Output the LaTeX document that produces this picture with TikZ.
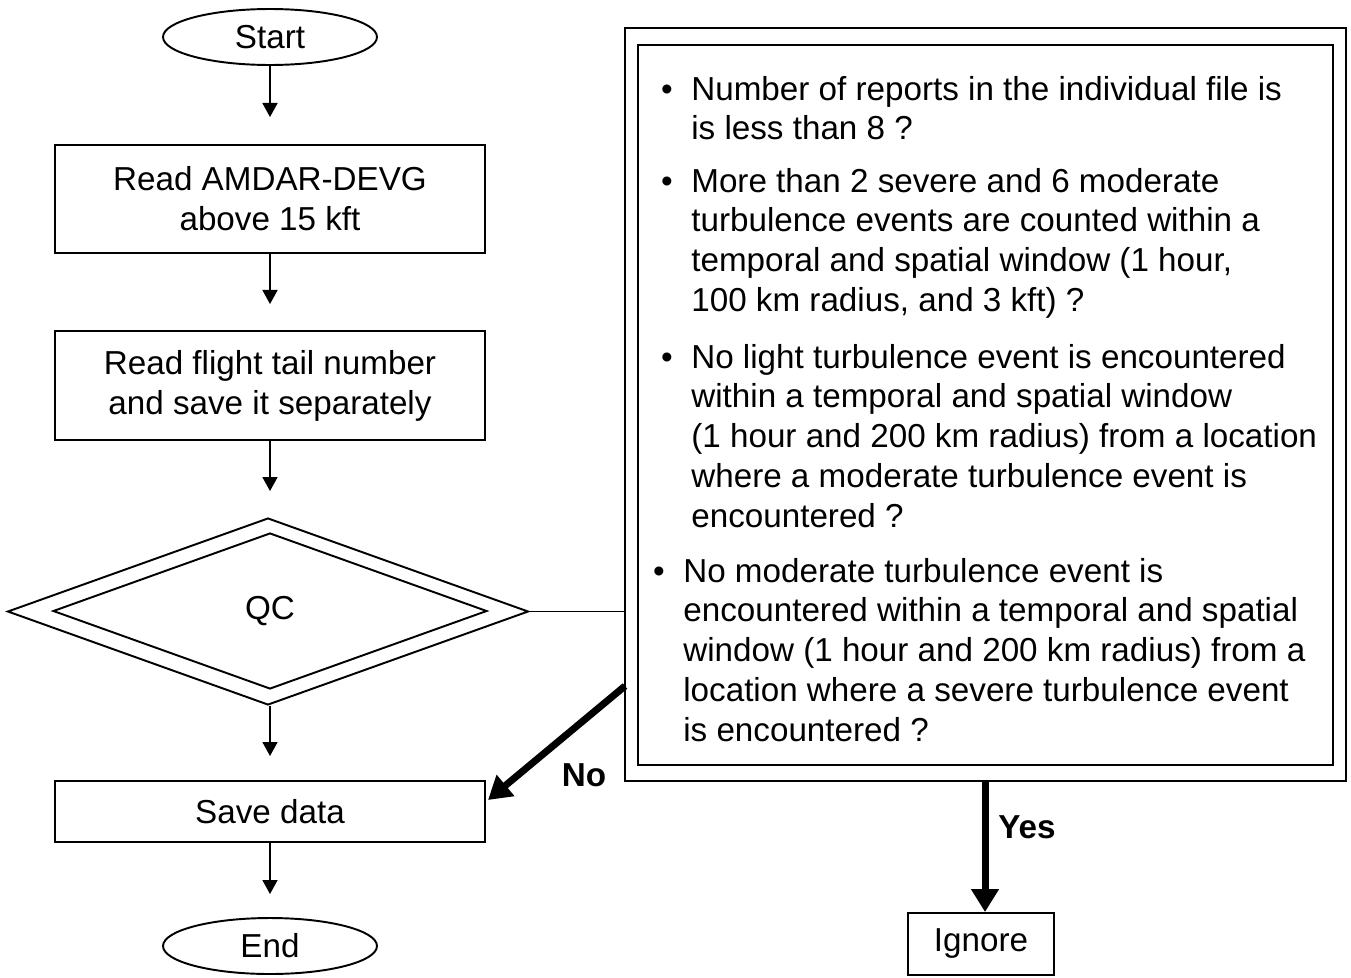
\documentclass[tikz,border=0pt]{standalone}
\usepackage{fontspec}
\setmainfont{Liberation Sans}
\usetikzlibrary{shapes.geometric,arrows.meta}
\begin{document}
\begin{tikzpicture}[x=0.02cm,y=-0.02cm,
  every node/.style={font=\fontsize{18.9pt}{22.7pt}\selectfont},
  proc/.style={draw, line width=1.1pt, minimum width=8.62cm, align=center, inner sep=0pt},
  term/.style={draw, ellipse, line width=1.1pt, minimum width=4.28cm, minimum height=1.12cm, inner sep=0pt},
  flow/.style={line width=1.1pt, -{Triangle[length=8pt,width=8.5pt]}},
  bigflow/.style={line width=4pt, -{Triangle[length=13pt,width=15pt]}},
  lbl/.style={font=\fontsize{18.9pt}{22.7pt}\selectfont\bfseries},
  itemtext/.style={anchor=base west, inner sep=0pt},
  bul/.style={anchor=base, inner sep=0pt}]
\fill[white] (0,0) rectangle (1351,977);
\useasboundingbox (0,0) rectangle (1351,977);

% left column
\node[term] (start) at (270,37) {Start};
\node[proc, minimum height=2.16cm] (read1) at (270,199) {Read AMDAR-DEVG\\above 15 kft};
\node[proc, minimum height=2.18cm] (read2) at (270,385.5) {Read flight tail number\\and save it separately};
\node[draw, diamond, line width=1.1pt, minimum width=10.42cm, minimum height=3.74cm, inner sep=0pt] (qc) at (268,611.5) {};
\node[draw, diamond, line width=1.1pt, minimum width=8.68cm, minimum height=3.12cm, inner sep=0pt] (qcin) at (270,611) {QC};
\node[proc, minimum height=1.22cm] (save) at (270,811.5) {Save data};
\node[term] (end) at (270,946) {End};

% right column
\node[draw, line width=1.2pt, minimum width=14.42cm, minimum height=15.06cm, inner sep=0pt] (note) at (985.5,404.5) {};
\node[draw, line width=1.2pt, minimum width=13.9cm, minimum height=14.4cm, inner sep=0pt] (noteinner) at (985.5,405) {};
\node[draw, line width=1.1pt, minimum width=2.92cm, minimum height=1.24cm, inner sep=0pt] (ignore) at (981,944) {Ignore};

% bullet items
\node[bul] (b1) at (667,100) {•};
\node[itemtext] (t1) at (691,100) {\begin{tabular}[t]{@{}l@{}}Number of reports in the individual file is\\is less than 8 ?\end{tabular}};
\node[bul] (b2) at (667,192) {•};
\node[itemtext] (t2) at (691,192) {\begin{tabular}[t]{@{}l@{}}More than 2 severe and 6 moderate\\turbulence events are counted within a\\temporal and spatial window (1 hour,\\100 km radius, and 3 kft) ?\end{tabular}};
\node[bul] (b3) at (667,368) {•};
\node[itemtext] (t3) at (691,368) {\begin{tabular}[t]{@{}l@{}}No light turbulence event is encountered\\within a temporal and spatial window\\(1 hour and 200 km radius) from a location\\where a moderate turbulence event is\\encountered ?\end{tabular}};
\node[bul] (b4) at (659,582) {•};
\node[itemtext] (t4) at (683,582) {\begin{tabular}[t]{@{}l@{}}No moderate turbulence event is\\encountered within a temporal and spatial\\window (1 hour and 200 km radius) from a\\location where a severe turbulence event\\is encountered ?\end{tabular}};

% connectors
\draw[flow, shorten >=0.54cm] (start.south) -- (read1.north);
\draw[flow, shorten >=0.52cm] (read1.south) -- (read2.north);
\draw[flow, shorten >=0.52cm] (read2.south) -- (read2.south |- qc.north);
\draw[flow, shorten >=0.48cm] (save.north |- qc.south) -- (save.north);
\draw[flow, shorten >=0.46cm] (save.south) -- (end.north);
\draw[line width=1.1pt] (qc.east) -- (qc.east -| note.west);

\coordinate (nofrom) at (625,686);
\coordinate (noto) at (488,800);
\draw[bigflow] (nofrom) -- (noto);
\coordinate (yx) at (985,0);
\draw[bigflow] (note.south -| yx) -- (ignore.north -| yx);

\node[lbl] (no) at (584,775) {No};
\node[lbl] (yes) at (1027,827) {Yes};
\end{tikzpicture}
\end{document}
